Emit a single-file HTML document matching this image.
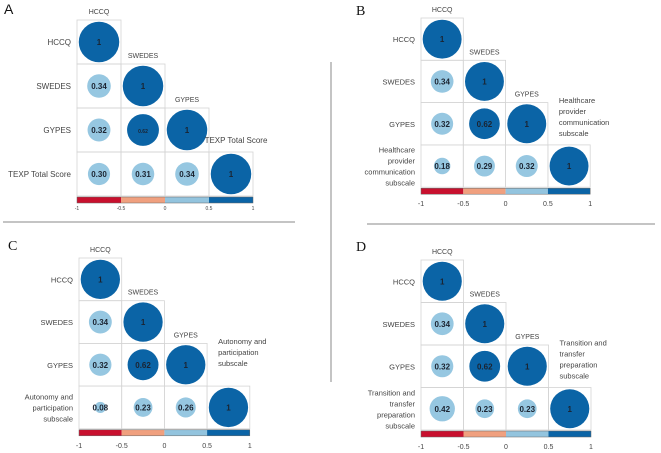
<!DOCTYPE html>
<html><head><meta charset="utf-8">
<style>
html,body{margin:0;padding:0;background:#fff;width:661px;height:453px;overflow:hidden}
svg{display:block;font-family:"Liberation Sans",sans-serif}
</style></head>
<body>
<svg id="fig" width="661" height="453" viewBox="0 0 661 453">
<line x1="3" y1="222" x2="295" y2="222" stroke="#888" stroke-width="1"/>
<line x1="367" y1="224" x2="655" y2="224" stroke="#888" stroke-width="1"/>
<line x1="331" y1="62" x2="331" y2="382" stroke="#888" stroke-width="1"/>
</svg>
<script>
// Panel data (lower triangle, row-major)
const varsA = ["HCCQ","SWEDES","GYPES","TEXP Total Score"];
const valuesA = [[1],[0.34,1],[0.32,0.62,1],[0.30,0.31,0.34,1]];
const varsB = ["HCCQ","SWEDES","GYPES","Healthcare provider communication subscale"];
const valuesB = [[1],[0.34,1],[0.32,0.62,1],[0.18,0.29,0.32,1]];
const varsC = ["HCCQ","SWEDES","GYPES","Autonomy and participation subscale"];
const valuesC = [[1],[0.34,1],[0.32,0.62,1],[0.08,0.23,0.26,1]];
const varsD = ["HCCQ","SWEDES","GYPES","Transition and transfer preparation subscale"];
const valuesD = [[1],[0.34,1],[0.32,0.62,1],[0.42,0.23,0.23,1]];
const colorbarStops = [-1,-0.5,0,0.5,1];
const colorbarTicks = ["-1","-0.5","0","0.5","1"];
const colorbarColors = ["#c8102e","#f0a07f","#93c4de","#0b64a6"];

const NS="http://www.w3.org/2000/svg";
const svg=document.getElementById('fig');
function mk(tag,attrs,parent){const e=document.createElementNS(NS,tag);for(const k in attrs)e.setAttribute(k,attrs[k]);(parent||svg).appendChild(e);return e;}
function fmt(v){return v===1?"1":v.toFixed(2);}
function colorFor(v){if(v>=0.5)return "#0b64a6";if(v>=0)return "#96c7e1";if(v>=-0.5)return "#f0a07f";return "#c8102e";}

const lastLines={
 "Healthcare provider communication subscale":["Healthcare","provider","communication","subscale"],
 "Autonomy and participation subscale":["Autonomy and","participation","subscale"],
 "Transition and transfer preparation subscale":["Transition and","transfer","preparation","subscale"]
};

function panel(id,letter,lx,ly,vars,vals,gx,gy,cell,small){
  const g=mk('g',{});
  
  
  const L=mk('text',{x:lx,y:ly,'font-size':14,fill:'#111','font-family':small?'"Liberation Sans",sans-serif':'"Liberation Serif",serif'},g);
  L.textContent=letter;
  
  
  const n=vars.length;
  const xs=c=>gx+c*cell, ys=r=>gy+r*cell;
  for(let r=0;r<n;r++){
    for(let c=0;c<=r;c++){
      const v=vals[r][c];
      const rect=mk('rect',{x:xs(c),y:ys(r),width:cell,height:cell,fill:'none',stroke:'#d4d4d4','stroke-width':0.8},g);
      
      
      const rad=cell*0.46*Math.sqrt(Math.abs(v));
      const ci=mk('circle',{cx:xs(c)+cell/2,cy:ys(r)+cell/2,r:rad,fill:colorFor(v)},g);
      
      
      const t=mk('text',{x:xs(c)+cell/2,y:ys(r)+cell/2+3,'text-anchor':'middle','font-size':(small&&v===0.62)?5:8,'font-weight':'bold',fill:'#1b2330'},g);
      t.textContent=fmt(v);
      
      
    }
  }
  for(let r=0;r<n;r++){
    const lines=lastLines[vars[r]]||[vars[r]];
    const cy=ys(r)+cell/2, lh=11;
    lines.forEach((ln,i)=>{
      const t=mk('text',{x:gx-6,y:cy+(i-(lines.length-1)/2)*lh+3,'text-anchor':'end','font-size':small?8:7.5,fill:'#444'},g);
      t.textContent=ln;
      
      
    });
  }
  for(let c=0;c<n;c++){
    const lines=lastLines[vars[c]];
    if(lines){
      lines.forEach((ln,i)=>{
        const t=mk('text',{x:xs(c)+11,y:ys(c)-45+i*11+3,'font-size':7.5,fill:'#444'},g);
        t.textContent=ln;
        
        
      });
    } else {
      const last=(c===n-1);
      const t=mk('text',{x:xs(c)+cell/2+(last?5:0),y:ys(c)-(last?9:6),'text-anchor':'middle','font-size':last?8:7,fill:'#444'},g);
      t.textContent=vars[c];
      
      
    }
  }
  const cbW=n*cell, cbY=ys(n)+1;
  const cx=v=>gx+(v+1)/2*cbW;
  for(let i=0;i<colorbarColors.length;i++){
    const s=mk('rect',{x:cx(colorbarStops[i]),y:cbY,width:cx(colorbarStops[i+1])-cx(colorbarStops[i]),height:6,fill:colorbarColors[i]},g);
    
    
  }
  const ol=mk('rect',{x:gx,y:cbY,width:cbW,height:6,fill:'none',stroke:'#666','stroke-width':0.5},g);
  
  
  colorbarStops.forEach((v,i)=>{
    const t=mk('text',{x:cx(v),y:cbY+(small?13:18),'text-anchor':'middle','font-size':small?5:7,fill:'#444'},g);
    t.textContent=colorbarTicks[i];
    
    
  });
}
panel('a','A',4,14,varsA,valuesA,77,20,44,true);
panel('b','B',356,15,varsB,valuesB,421,18,42.3,false);
panel('c','C',8,250,varsC,valuesC,79,258,42.7,false);
panel('d','D',356,251,varsD,valuesD,421,260,42.5,false);
</script>
</body></html>
